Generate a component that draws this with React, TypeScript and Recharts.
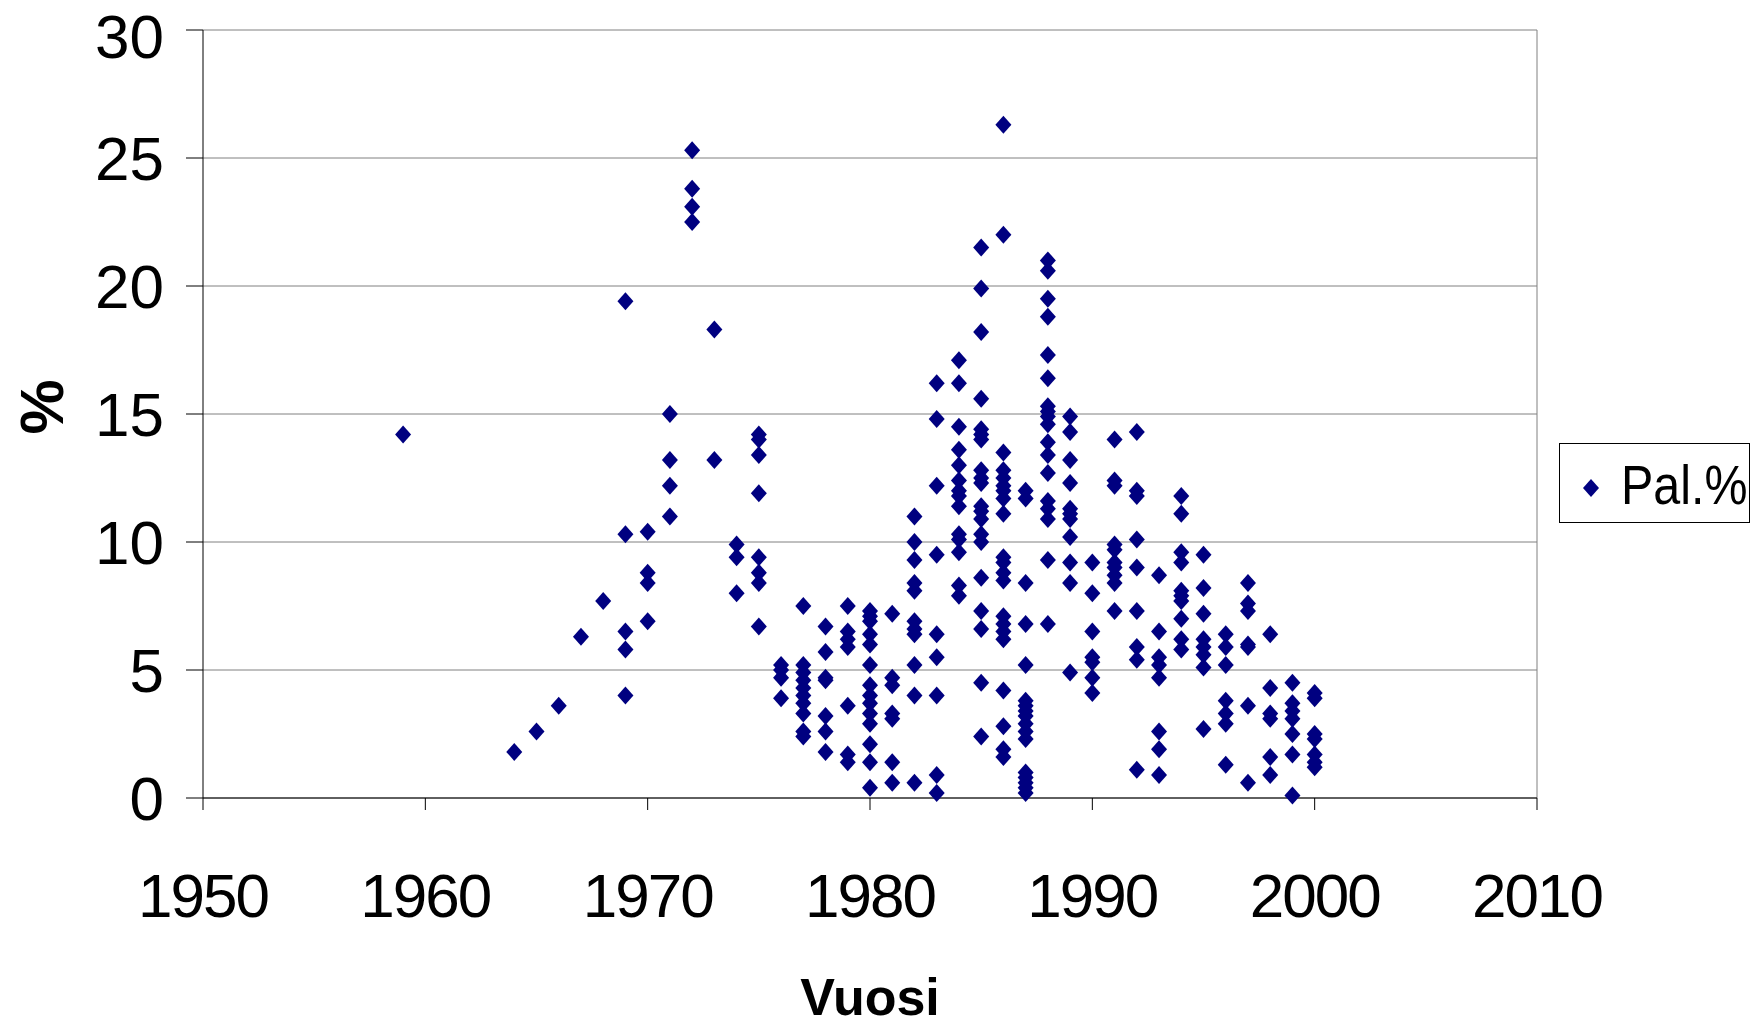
import {
  CartesianGrid,
  Legend,
  ReferenceLine,
  Scatter,
  ScatterChart,
  XAxis,
  YAxis,
} from "recharts";

const YEARS = [
  1959, 1964, 1965, 1966, 1967, 1968, 1969, 1970, 1971, 1972, 1973, 1974,
  1975, 1976, 1977, 1978, 1979, 1980, 1981, 1982, 1983, 1984, 1985, 1986,
  1987, 1988, 1989, 1990, 1991, 1992, 1993, 1994, 1995, 1996, 1997, 1998,
  1999, 2000,
];

// Pal.% readings for each year above, in the same order
const PAL_PCT = [
  [14.2],
  [1.8],
  [2.6],
  [3.6],
  [6.3],
  [7.7],
  [19.4, 10.3, 6.5, 5.8, 4.0],
  [10.4, 8.8, 8.4, 6.9],
  [15.0, 13.2, 12.2, 11.0],
  [25.3, 23.8, 23.1, 22.5],
  [18.3, 13.2],
  [9.9, 9.4, 8.0],
  [14.2, 14.0, 13.4, 11.9, 9.4, 8.8, 8.4, 6.7],
  [5.2, 5.0, 4.7, 3.9],
  [7.5, 5.2, 4.9, 4.6, 4.3, 4.0, 3.7, 3.3, 2.6, 2.4],
  [6.7, 5.7, 4.7, 4.6, 3.2, 2.6, 1.8],
  [7.5, 6.5, 6.2, 5.9, 3.6, 1.7, 1.4],
  [7.3, 7.1, 6.9, 6.4, 6.0, 5.2, 4.4, 4.0, 3.7, 3.3, 2.9, 2.1, 1.4, 0.4],
  [7.2, 4.7, 4.4, 3.3, 3.1, 1.4, 0.6],
  [11.0, 10.0, 9.3, 8.4, 8.1, 6.9, 6.6, 6.4, 5.2, 4.0, 0.6],
  [16.2, 14.8, 12.2, 9.5, 6.4, 5.5, 4.0, 0.9, 0.2],
  [17.1, 16.2, 14.5, 13.6, 13.0, 12.4, 12.0, 11.8, 11.4, 10.3, 10.1, 9.6, 8.3, 7.9],
  [
    21.5, 19.9, 18.2, 15.6, 14.4, 14.2, 14.0, 12.8, 12.5, 12.3, 11.4, 11.2,
    10.9, 10.3, 10.0, 8.6, 7.3, 6.6, 4.5, 2.4,
  ],
  [
    26.3, 22.0, 13.5, 12.8, 12.5, 12.2, 12.0, 11.7, 11.1, 9.4, 9.2, 8.8, 8.5,
    7.1, 6.8, 6.5, 6.2, 4.2, 2.8, 1.9, 1.6,
  ],
  [12.0, 11.7, 8.4, 6.8, 5.2, 3.8, 3.6, 3.4, 3.2, 2.9, 2.6, 2.3, 1.0, 0.8, 0.6, 0.4, 0.2],
  [
    21.0, 20.6, 19.5, 18.8, 17.3, 16.4, 15.3, 15.1, 14.9, 14.6, 13.9, 13.4,
    12.7, 11.6, 11.3, 10.9, 9.3, 6.8,
  ],
  [14.9, 14.3, 13.2, 12.3, 11.3, 11.1, 10.9, 10.2, 9.2, 8.4, 4.9],
  [9.2, 8.0, 6.5, 5.5, 5.3, 4.7, 4.1],
  [14.0, 12.4, 12.2, 9.9, 9.7, 9.2, 9.0, 8.7, 8.4, 7.3],
  [14.3, 12.0, 11.8, 10.1, 9.0, 7.3, 5.9, 5.4, 1.1],
  [8.7, 6.5, 5.5, 5.2, 4.7, 2.6, 1.9, 0.9],
  [11.8, 11.1, 9.6, 9.2, 8.1, 7.9, 7.7, 7.0, 6.2, 5.8],
  [9.5, 8.2, 7.2, 6.2, 5.9, 5.6, 5.1, 2.7],
  [6.4, 5.9, 5.2, 3.8, 3.3, 2.9, 1.3],
  [8.4, 7.6, 7.3, 6.0, 5.9, 3.6, 0.6],
  [6.4, 4.3, 3.3, 3.1, 1.6, 0.9],
  [4.5, 3.7, 3.4, 3.1, 2.5, 1.7, 0.1],
  [4.1, 3.9, 2.5, 2.3, 1.7, 1.4, 1.2],
];

const X_TICKS = [1950, 1960, 1970, 1980, 1990, 2000, 2010];
const Y_TICKS = [0, 5, 10, 15, 20, 25, 30];
const SERIES_NAME = "Pal.%";

const FONT = '"Liberation Sans", Arial, sans-serif';
const NAVY = "#000080";
const GRID = "#808080";

const points = YEARS.flatMap((year, i) =>
  PAL_PCT[i].map((pct) => ({ year, pct })),
);

function Diamond(props: any) {
  const { cx, cy } = props;
  if (cx == null || cy == null) return null;
  return (
    <polygon
      points={`${cx},${cy - 9} ${cx + 8},${cy} ${cx},${cy + 9} ${cx - 8},${cy}`}
      fill={NAVY}
    />
  );
}

function YTitle(props: any) {
  const vb = props.viewBox || { y: 30, height: 768 };
  const cy = vb.y + vb.height / 2 - 7;
  return (
    <text
      x={41}
      y={cy}
      transform={`rotate(-90 41 ${cy})`}
      textAnchor="middle"
      dominantBaseline="central"
      fontFamily={FONT}
      fontWeight="bold"
      fontSize={62}
      fill="#000"
    >
      %
    </text>
  );
}

function XTitle(props: any) {
  const vb = props.viewBox || { x: 203, width: 1334 };
  return (
    <text
      x={vb.x + vb.width / 2}
      y={1015}
      textAnchor="middle"
      fontFamily={FONT}
      fontWeight="bold"
      fontSize={52}
      fill="#000"
    >
      Vuosi
    </text>
  );
}

function LegendBox() {
  return (
    <div
      style={{
        width: 189,
        height: 78,
        border: "1px solid #000",
        background: "#fff",
        boxSizing: "content-box",
      }}
    >
      <svg width={189} height={78}>
        <polygon points="31,35 39,44 31,53 23,44" fill={NAVY} />
        <text
          x={61}
          y={60}
          fontFamily={FONT}
          fontSize={55}
          fill="#000"
          transform="translate(61 0) scale(0.88 1) translate(-61 0)"
        >
          {SERIES_NAME}
        </text>
      </svg>
    </div>
  );
}

export default function App() {
  return (
    <div
      style={{
        position: "absolute",
        left: 0,
        top: 0,
        width: 1760,
        height: 1029,
        background: "#fff",
      }}
    >
      <ScatterChart
        width={1760}
        height={1029}
        margin={{ top: 30, right: 223, bottom: 0, left: 0 }}
      >
        <CartesianGrid stroke={GRID} vertical={false} />
        <XAxis
          type="number"
          dataKey="year"
          domain={[1950, 2010]}
          ticks={X_TICKS}
          allowDataOverflow
          height={231}
          tickSize={12}
          tickMargin={63}
          axisLine={{ stroke: "#000" }}
          tickLine={{ stroke: "#000" }}
          tick={{ fontSize: 62, fill: "#000", fontFamily: FONT, letterSpacing: -2 }}
          label={<XTitle />}
        />
        <YAxis
          type="number"
          dataKey="pct"
          domain={[0, 30]}
          ticks={Y_TICKS}
          width={203}
          tickSize={17}
          tickMargin={22}
          axisLine={{ stroke: "#000" }}
          tickLine={{ stroke: "#000" }}
          tick={{ fontSize: 62, fill: "#000", fontFamily: FONT }}
          label={<YTitle />}
        />
        <ReferenceLine x={2010} stroke={GRID} />
        <Legend
          layout="horizontal"
          verticalAlign="middle"
          align="center"
          content={<LegendBox />}
          wrapperStyle={{ left: 1559, top: 443, width: 191, height: 80 }}
        />
        <Scatter
          name={SERIES_NAME}
          data={points}
          fill={NAVY}
          shape={<Diamond />}
          isAnimationActive={false}
        />
      </ScatterChart>
    </div>
  );
}
